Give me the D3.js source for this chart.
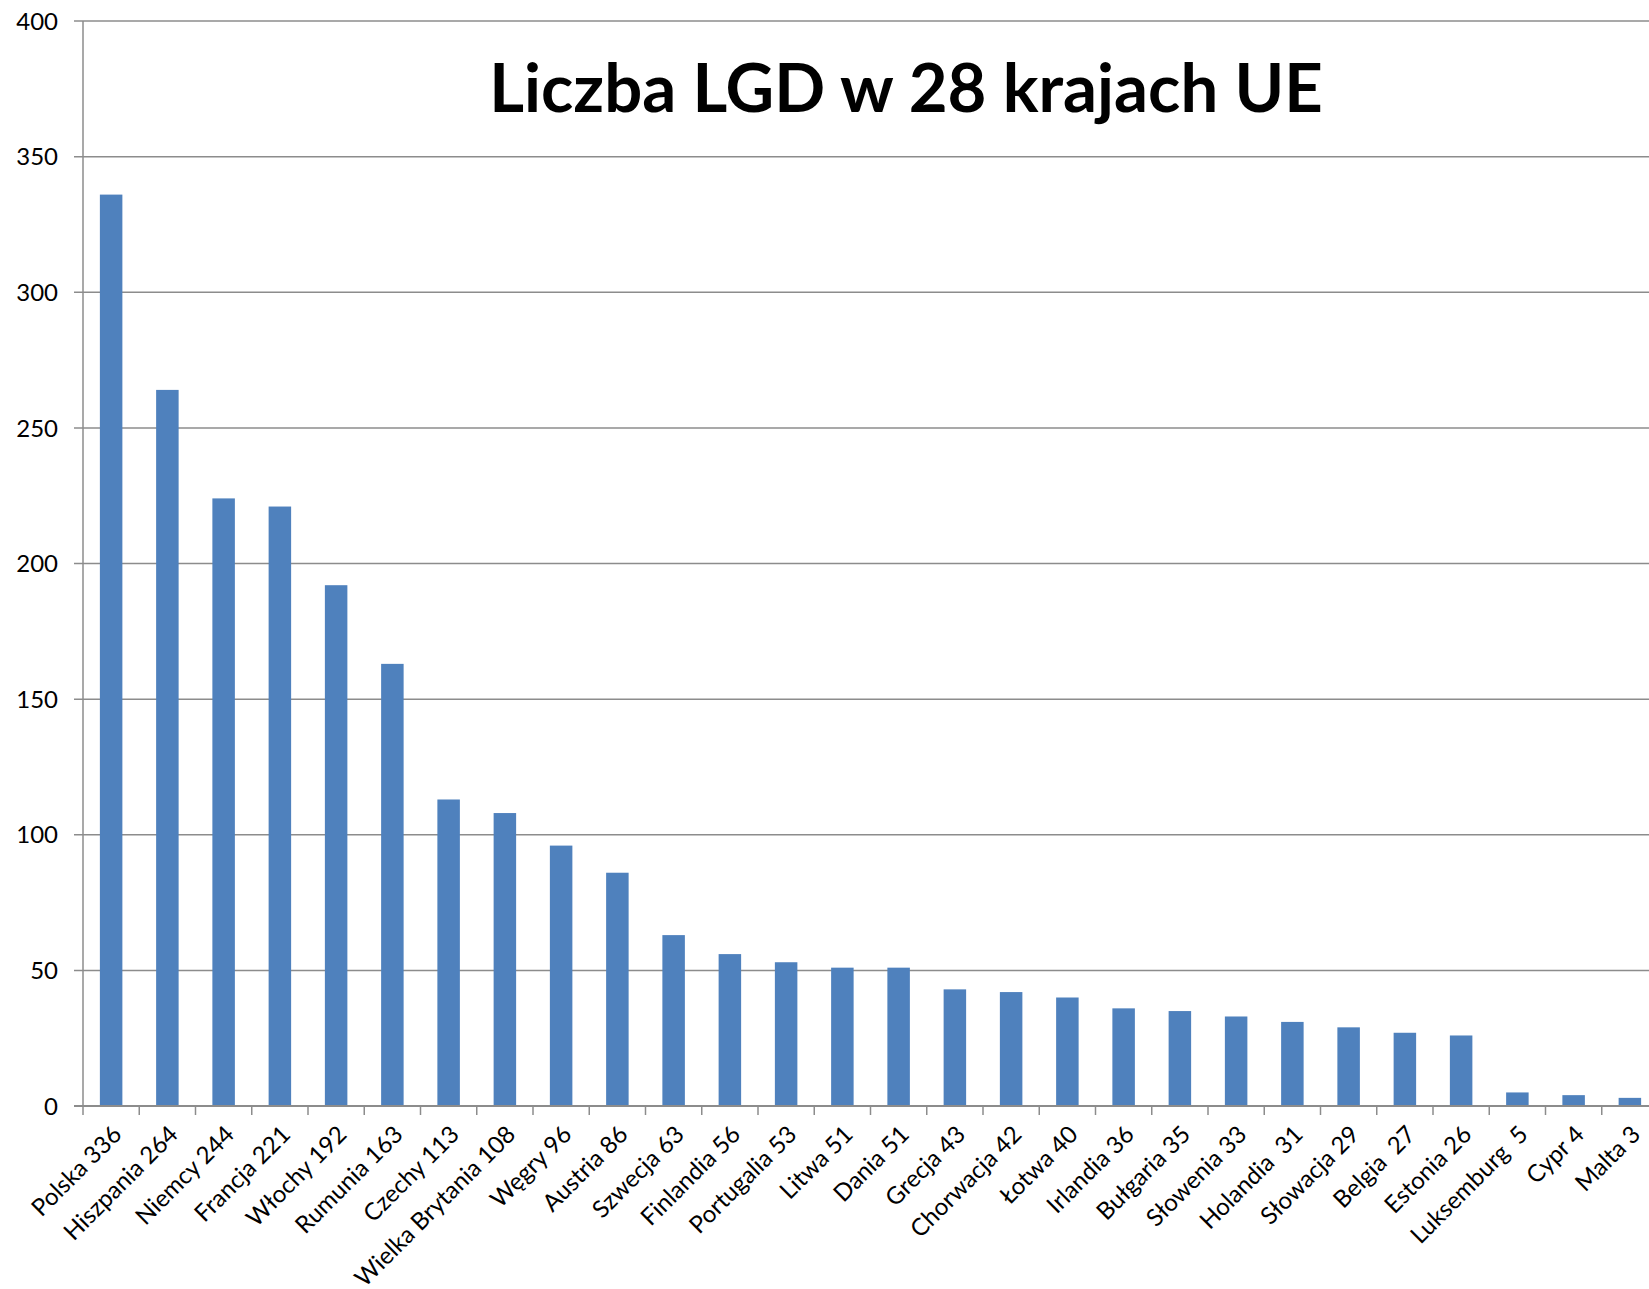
<!DOCTYPE html>
<html>
<head>
<meta charset="utf-8">
<script src="https://cdn.jsdelivr.net/npm/d3@7"></script>
<style>
  body { margin: 0; background: #fff; }
  svg { display: block; font-family: Lato, "Open Sans", sans-serif; }
</style>
</head>
<body>
<div id="chart"></div>
<script>
// labels as printed under the bars
var labels = ["Polska 336", "Hiszpania 264", "Niemcy 244", "Francja 221", "Włochy 192",
    "Rumunia 163", "Czechy 113", "Wielka Brytania 108", "Węgry 96", "Austria 86",
    "Szwecja 63", "Finlandia 56", "Portugalia 53", "Litwa 51", "Dania 51",
    "Grecja 43", "Chorwacja 42", "Łotwa 40", "Irlandia 36", "Bułgaria 35",
    "Słowenia 33", "Holandia  31", "Słowacja 29", "Belgia  27", "Estonia 26",
    "Luksemburg  5", "Cypr 4", "Malta 3"];
// bar heights as drawn
var values = [336, 264, 224, 221, 192, 163, 113, 108, 96, 86, 63, 56, 53, 51, 51,
    43, 42, 40, 36, 35, 33, 31, 29, 27, 26, 5, 4, 3];
var yTicks = [0, 50, 100, 150, 200, 250, 300, 350, 400];
var title = "Liczba LGD w 28 krajach UE";

(function () {
    "use strict";

    var width = 1649,
        height = 1289,
        left = 83,
        top = 21,
        bottom = 1106,
        right = 1658,

        svg = d3.select("#chart")
            .append("svg")
            .attr("width", width)
            .attr("height", height),

        x = d3.scaleBand()
            .domain(labels)
            .range([left, right])
            .paddingInner(0.6)
            .paddingOuter(0.3),

        y = d3.scaleLinear()
            .domain([0, 400])
            .range([bottom, top]);

    // gridlines
    svg.append("g")
        .selectAll("line")
        .data(yTicks.slice(1))
        .enter().append("line")
        .attr("x1", left - 9)
        .attr("x2", width)
        .attr("y1", function (d) { return y(d); })
        .attr("y2", function (d) { return y(d); })
        .attr("stroke", "#8c8c8c")
        .attr("stroke-width", 1.5);

    svg.append("g")
        .selectAll("text")
        .data(yTicks)
        .enter().append("text")
        .attr("x", left - 25)
        .attr("y", function (d) { return y(d); })
        .attr("dy", "0.36em")
        .attr("text-anchor", "end")
        .attr("font-size", 24)
        .text(function (d) { return d; });

    // bars
    svg.append("g")
        .selectAll("rect")
        .data(values)
        .enter().append("rect")
        .attr("x", function (d, i) { return x(labels[i]); })
        .attr("width", x.bandwidth())
        .attr("y", function (d) { return y(d); })
        .attr("height", function (d) { return y(0) - y(d); })
        .attr("fill", "#4f81bd");

    // axes
    svg.append("line")
        .attr("x1", left).attr("x2", left)
        .attr("y1", top).attr("y2", bottom)
        .attr("stroke", "#8c8c8c")
        .attr("stroke-width", 1.5);

    svg.append("line")
        .attr("x1", left - 9).attr("x2", width)
        .attr("y1", bottom).attr("y2", bottom)
        .attr("stroke", "#8c8c8c")
        .attr("stroke-width", 2);

    svg.append("g")
        .selectAll("line")
        .data(d3.range(labels.length + 1))
        .enter().append("line")
        .attr("x1", function (i) { return left + i * (right - left) / labels.length; })
        .attr("x2", function (i) { return left + i * (right - left) / labels.length; })
        .attr("y1", bottom)
        .attr("y2", bottom + 9)
        .attr("stroke", "#8c8c8c")
        .attr("stroke-width", 1.5);

    svg.append("g")
        .selectAll("text")
        .data(labels)
        .enter().append("text")
        .attr("transform", function (d) {
            var cx = x(d) + x.bandwidth() / 2 + 12;
            return "translate(" + cx + "," + (bottom + 30) + ") rotate(-45)";
        })
        .attr("text-anchor", "end")
        .attr("font-size", 24)
        .attr("xml:space", "preserve")
        .style("white-space", "pre")
        .text(function (d) { return d; });

    svg.append("text")
        .attr("x", 906)
        .attr("y", 112)
        .attr("text-anchor", "middle")
        .attr("font-size", 67)
        .attr("font-weight", "bold")
        .text(title);
})();
</script>
</body>
</html>
